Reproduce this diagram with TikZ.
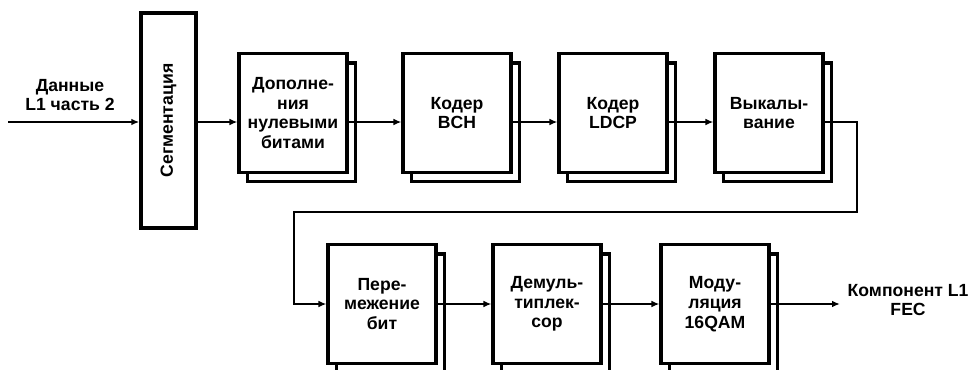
\documentclass[tikz,border=0pt]{standalone}
\usepackage{fontspec}
\setmainfont{Liberation Sans}
\usetikzlibrary{arrows.meta,shadows}

\begin{document}
\begin{tikzpicture}[x=0.75pt, y=-0.75pt,
		font=\bfseries\fontsize{13.2}{14.8}\selectfont,
		blk/.style={draw, line width=2.3pt, fill=white, align=center, inner sep=1pt,
			minimum width=81pt, minimum height=89pt,
			copy shadow={shadow xshift=6.5pt, shadow yshift=-7pt}},
		segbox/.style={draw, line width=2.8pt, fill=white, minimum width=41pt, minimum height=161pt},
		arr/.style={line width=1.6pt, -{Latex[length=6pt,width=5pt]}},
		lbl/.style={align=center}]
		\useasboundingbox (0,0) rectangle (972,369);

		\node [segbox] (seg) at (168.5,120.5) {\rotatebox{90}{Сегментация}};

		\node [blk] (dop) at (293,113) {Дополне-\\ния\\нулевыми\\битами};
		\node [blk] (bch) at (457,113) {Кодер\\BCH};
		\node [blk] (ldpc) at (613,113) {Кодер\\LDCP};
		\node [blk] (vyk) at (769,113) {Выкалы-\\вание};

		\node [blk] (per) at (382,304) {Пере-\\межение\\бит};
		\node [blk] (dmx) at (547,304) {Демуль-\\типлек-\\сор};
		\node [blk] (mod) at (715,304) {Моду-\\ляция\\16QAM};

		\coordinate (in) at (8,122);
		\coordinate (ra) at (857,212);
		\coordinate (rb) at (294,304);
		\coordinate (out) at (840,304);

		\node [lbl] (inlbl) at (70,95) {Данные\\L1 часть 2};
		\node [lbl, anchor=west] (outlbl) at (843,300) {Компонент L1\\FEC};

		\draw [arr] (in) -- (seg.west |- in);
		\draw [arr] (seg.east |- in) -- (dop.west |- in);
		\draw [arr] (dop.east |- in) -- (bch.west |- in);
		\draw [arr] (bch.east |- in) -- (ldpc.west |- in);
		\draw [arr] (ldpc.east |- in) -- (vyk.west |- in);
		\draw [arr] (vyk.east |- in) -| (ra) -| (rb) -- (per.west);
		\draw [arr] (per.east) -- (dmx.west);
		\draw [arr] (dmx.east) -- (mod.west);
		\draw [arr] (mod.east) -- (out);
	\end{tikzpicture}
\end{document}
